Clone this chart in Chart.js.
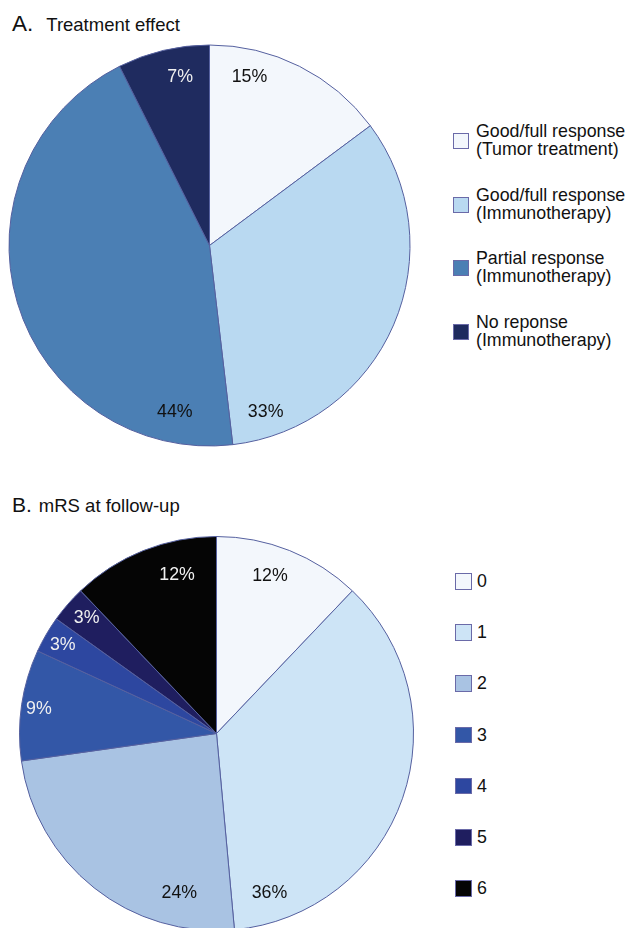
<!DOCTYPE html>
<html>
<head>
<meta charset="utf-8">
<script src="https://cdn.jsdelivr.net/npm/chart.js@4/dist/chart.umd.min.js"></script>
<style>
  html, body { margin: 0; padding: 0; background: #ffffff; overflow: hidden; }
  body { width: 628px; height: 928px; position: relative; font-family: "Liberation Sans", Arial, sans-serif; color: #111; }
  canvas { position: absolute; }
  .title { position: absolute; left: 12px; white-space: nowrap; line-height: 24px; }
  .title .txt { font-size: 18.5px; }
  .leg { position: absolute; }
  .leg .box { position: absolute; box-sizing: border-box; border: 1px solid #6a6aa8; }
  .leg .lbl { position: absolute; font-size: 17.8px; line-height: 18px; white-space: nowrap; }
</style>
</head>
<body>
<div class="title" style="top:12px"><span style="font-size:22.5px">A.</span><span class="txt" style="margin-left:13px">Treatment effect</span></div>
<div class="title" style="top:493px"><span style="font-size:21px">B.</span><span class="txt" style="margin-left:7px">mRS at follow-up</span></div>
<canvas id="chartA" width="419" height="411" style="left:0px;top:40px"></canvas>
<canvas id="chartB" width="433" height="407" style="left:0px;top:530px"></canvas>
<div id="legendA"></div>
<div id="legendB"></div>
<script>
// ---- Data ----
const categoriesA = ["Good/full response\n(Tumor treatment)", "Good/full response\n(Immunotherapy)", "Partial response\n(Immunotherapy)", "No reponse\n(Immunotherapy)"];
const sharesA = [14.8, 33.3, 44.4, 7.4];
const categoriesB = ["0", "1", "2", "3", "4", "5", "6"];
const sharesB = [12.1, 36.4, 24.2, 9.1, 3.0, 3.0, 12.1];

// ---- Styles ----
const colorsA = ["#F3F7FC", "#B9D9F1", "#4B7FB4", "#1F2B5F"];
const textColorsA = ["#111111", "#111111", "#111111", "#F0F0F0"];
const labelAtA = [0.25, 0.90, 0.115, 0.63];
const labelRadA = [0.865, 0.875, 0.85, 0.855];

const colorsB = ["#F3F7FC", "#CDE4F6", "#A9C3E3", "#3357A7", "#2D47A0", "#1F1E5F", "#050505"];
const textColorsB = ["#111111", "#111111", "#111111", "#F0F0F0", "#F0F0F0", "#F0F0F0", "#F0F0F0"];
const labelAtB = [0.43, 0.90, 0.21, 0.48, 0.47, 0.55, 0.68];
const labelRadB = [0.845, 0.855, 0.832, 0.91, 0.90, 0.88, 0.83];

const sliceLabelPlugin = {
  id: 'sliceLabels',
  afterDatasetsDraw(chart, args, opts) {
    const ctx = chart.ctx;
    const meta = chart.getDatasetMeta(0);
    const ds = chart.data.datasets[0];
    ctx.save();
    ctx.font = '17.8px "Liberation Sans", Arial, sans-serif';
    ctx.textAlign = 'center';
    ctx.textBaseline = 'middle';
    meta.data.forEach((arc, i) => {
      const p = arc.getProps(['x', 'y', 'startAngle', 'endAngle', 'outerRadius'], true);
      const a = p.startAngle + opts.at[i] * (p.endAngle - p.startAngle);
      const r = opts.rad[i] * p.outerRadius;
      ctx.fillStyle = opts.colors[i];
      ctx.fillText(Math.round(ds.data[i]) + '%', p.x + r * Math.cos(a), p.y + r * Math.sin(a));
    });
    ctx.restore();
  }
};

function makePie(id, labels, values, colors, radius, textColors, at, rad) {
  return new Chart(document.getElementById(id), {
    type: 'pie',
    data: {
      labels: labels,
      datasets: [{
        data: values,
        backgroundColor: colors,
        borderColor: '#55609f',
        borderWidth: 1
      }]
    },
    options: {
      responsive: false,
      animation: false,
      radius: radius,
      layout: { padding: 0 },
      plugins: {
        legend: { display: false },
        tooltip: { enabled: false },
        sliceLabels: { colors: textColors, at: at, rad: rad }
      }
    },
    plugins: [sliceLabelPlugin]
  });
}

const chartA = makePie('chartA', categoriesA, sharesA, colorsA, 200.5, textColorsA, labelAtA, labelRadA);
const chartB = makePie('chartB', categoriesB, sharesB, colorsB, 197, textColorsB, labelAtB, labelRadB);

// ---- HTML legends built from chart data ----
function buildLegend(containerId, chart, x0, textX, top0, step, boxOffset, boxSize) {
  const el = document.getElementById(containerId);
  el.className = 'leg';
  const labels = chart.data.labels;
  const cols = chart.data.datasets[0].backgroundColor;
  labels.forEach((lab, i) => {
    const top = top0 + step * i;
    const b = document.createElement('div');
    b.className = 'box';
    b.style.left = x0 + 'px';
    b.style.top = (top + boxOffset) + 'px';
    b.style.width = boxSize + 'px';
    b.style.height = boxSize + 'px';
    b.style.background = cols[i];
    el.appendChild(b);
    const t = document.createElement('div');
    t.className = 'lbl';
    t.style.left = textX + 'px';
    t.style.top = top + 'px';
    t.innerHTML = lab.split('\n').map(s => s.replace(/&/g, '&amp;').replace(/</g, '&lt;')).join('<br>');
    el.appendChild(t);
  });
}
buildLegend('legendA', chartA, 453, 476, 122, 63.7, 11, 16);
buildLegend('legendB', chartB, 455, 477, 572, 51.2, 1, 16.5);
</script>
</body>
</html>
